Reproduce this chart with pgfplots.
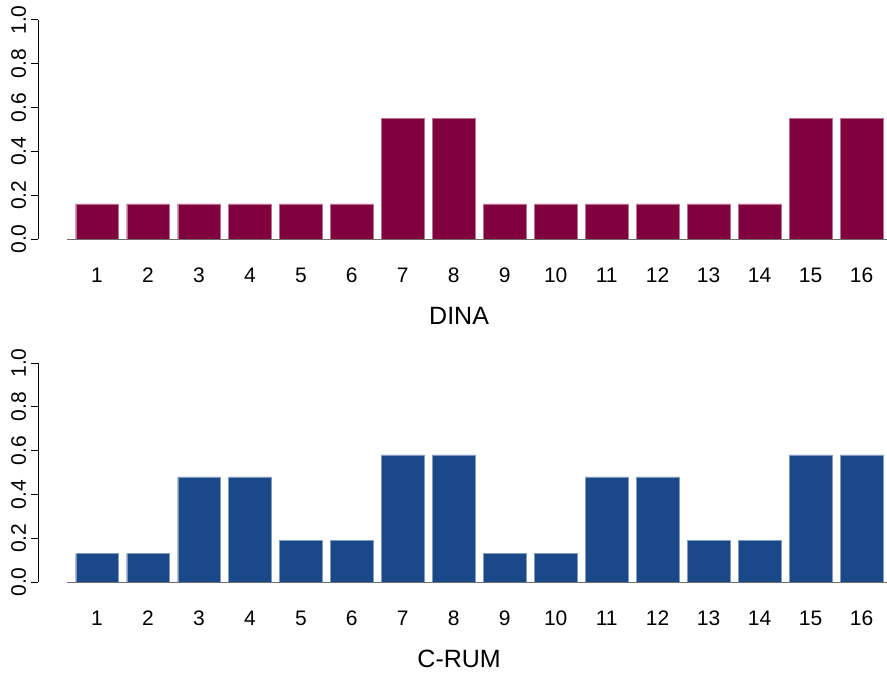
\documentclass[border=0pt]{standalone}
\usepackage{pgfplots}
\pgfplotsset{compat=1.18}
\usepackage{fontspec}
\setmainfont{Liberation Sans}
\definecolor{dinacol}{RGB}{127,0,60}
\definecolor{crumcol}{RGB}{27,72,136}
\definecolor{basecol}{RGB}{110,110,110}
\pgfplotsset{
  panel/.style={
    scale only axis,
    width=509.4pt, height=131.4pt,
    xmin=-0.157, xmax=16.5, ymin=0, ymax=1,
    clip=false,
    axis y line=left, axis x line=bottom,
    x axis line style={draw=none},
    y axis line style={-, black, line width=0.6pt},
    ytick={0,0.2,0.4,0.6,0.8,1.0},
    yticklabel style={/pgf/number format/fixed,/pgf/number format/fixed zerofill,/pgf/number format/precision=1, xshift=-2.8pt, rotate=90, anchor=south, inner sep=0pt},
    /pgf/number format/assume math mode=true,
    xtick={1,...,16},
    xtick style={draw=none},
    ytick style={black, line width=0.6pt},
    tick align=outside,
    major tick length=4.2pt,
    xticklabel style={anchor=base, inner sep=0pt, yshift=-22pt},
    xlabel style={at={(axis description cs:0.496,0)}, anchor=base, inner sep=0pt, yshift=-51pt},
    tick label style={font=\fontsize{12.6}{15}\selectfont},
    label style={font=\fontsize{15}{18}\selectfont},
    ybar, bar width=0.833, bar shift=0pt,
  }
}
\begin{document}
\begin{tikzpicture}
\useasboundingbox (-22.8pt,143.4pt) rectangle (509.4pt,-260.4pt);
\begin{axis}[panel, at={(0,0)}, anchor=south west, xlabel={DINA}]
\addplot[fill=dinacol, draw=dinacol!55!white, line width=0.2pt] coordinates {
(1,0.16) (2,0.16) (3,0.16) (4,0.16) (5,0.16) (6,0.16) (7,0.55) (8,0.55)
(9,0.16) (10,0.16) (11,0.16) (12,0.16) (13,0.16) (14,0.16) (15,0.55) (16,0.55)};
\addplot[sharp plot, basecol, line width=0.6pt, no marks] coordinates {(0.42,0) (16.75,0)};
\end{axis}
\begin{axis}[panel, at={(0,-205.8pt)}, anchor=south west, xlabel={C-RUM}]
\addplot[fill=crumcol, draw=crumcol!55!white, line width=0.2pt] coordinates {
(1,0.13) (2,0.13) (3,0.48) (4,0.48) (5,0.19) (6,0.19) (7,0.58) (8,0.58)
(9,0.13) (10,0.13) (11,0.48) (12,0.48) (13,0.19) (14,0.19) (15,0.58) (16,0.58)};
\addplot[sharp plot, basecol, line width=0.6pt, no marks] coordinates {(0.42,0) (16.75,0)};
\end{axis}
\end{tikzpicture}
\end{document}
